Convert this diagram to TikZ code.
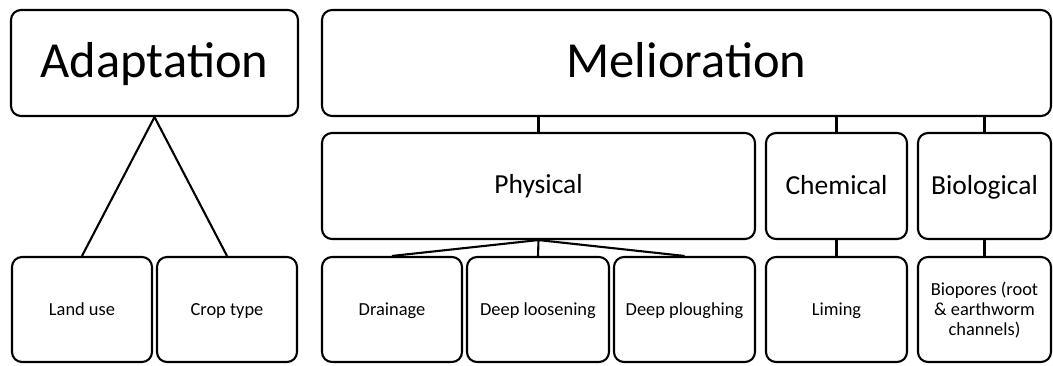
\documentclass[tikz,border=0pt]{standalone}
\usepackage{fontspec}
\setmainfont{Carlito}
\begin{document}
\begin{tikzpicture}[x=1pt,y=-1pt,
  box/.style={draw=black,line width=2.1pt,rounded corners=10pt,inner sep=0pt,anchor=center,minimum height=106pt},
  big/.style={box,font=\fontsize{50.5}{60}\selectfont,text height=34pt,text depth=6pt},
  mid/.style={box,font=\fontsize{27.5}{33}\selectfont,text height=20pt,text depth=4pt},
  small/.style={box,minimum height=105pt,font=\fontsize{18.4}{20}\selectfont,align=center,text height=13pt,text depth=2pt},
  link/.style={line width=2.1pt}]
\useasboundingbox (0,0) rectangle (1053,365);
% top row
\node[big,minimum width=287pt] (adapt) at (154.5,63) {Adaptation};
\node[big,minimum width=729pt] (melio) at (686.5,63) {Melioration\hspace{47pt}};
% middle row
\node[mid,minimum width=433pt,text height=18pt] (phys) at (538.5,186) {Physical};
\node[mid,minimum width=141pt] (chem) at (836.5,186) {Chemical};
\node[mid,minimum width=133pt] (bio) at (984.5,186) {Biological};
% bottom row
\node[small,minimum width=140pt] (land) at (82,309.5) {Land use};
\node[small,minimum width=140pt] (crop) at (227,309.5) {Crop type};
\node[small,minimum width=140pt] (drain) at (392,309.5) {Drainage};
\node[small,minimum width=142pt] (loos) at (538,309.5) {Deep loosening};
\node[small,minimum width=141pt] (plough) at (684.5,309.5) {Deep ploughing};
\node[small,minimum width=141pt] (lime) at (836.5,309.5) {Liming};
\node[small,minimum width=133pt,text height=54pt,text depth=2pt] (biop) at (984.5,309.5) {Biopores (root\\\& earthworm\\channels)};
% connectors
\draw[link] (adapt.south) -- (land.north);
\draw[link] (adapt.south) -- (crop.north);
\draw[link] (melio.south -| phys.north) -- (phys.north);
\draw[link] (melio.south -| chem.north) -- (chem.north);
\draw[link] (melio.south -| bio.north) -- (bio.north);
\draw[link] (phys.south) -- (drain.north);
\draw[link] (phys.south) -- (loos.north);
\draw[link] (phys.south) -- (plough.north);
\draw[link] (chem.south) -- (lime.north);
\draw[link] (bio.south) -- (biop.north);
\end{tikzpicture}
\end{document}
